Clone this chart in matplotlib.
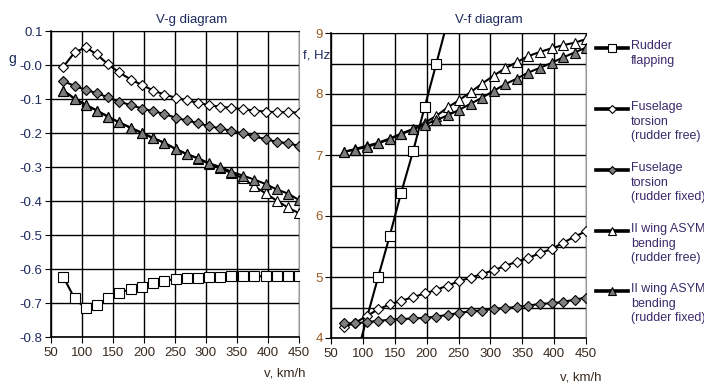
import matplotlib
matplotlib.use("Agg")
import matplotlib.pyplot as plt
from matplotlib.lines import Line2D
import numpy as np

plt.rcParams['font.family'] = ['Liberation Sans', 'DejaVu Sans']

# speeds, km/h
v = [70, 88, 106, 124, 142, 160, 179, 197, 215, 233, 251, 269, 287, 305, 323, 341, 359, 378, 396, 414, 432, 450]

# V-g diagram (damping g)
g_rudder = [-0.624, -0.686, -0.716, -0.706, -0.686, -0.670, -0.659, -0.652, -0.642, -0.634, -0.630,
            -0.627, -0.625, -0.624, -0.624, -0.622, -0.622, -0.622, -0.621, -0.621, -0.621, -0.621]
g_fus_free = [-0.005, 0.037, 0.052, 0.031, 0.002, -0.022, -0.043, -0.059, -0.075, -0.087, -0.096,
              -0.104, -0.111, -0.118, -0.123, -0.126, -0.130, -0.134, -0.137, -0.139, -0.139, -0.140]
g_fus_fixed = [-0.047, -0.062, -0.073, -0.083, -0.095, -0.108, -0.118, -0.128, -0.136, -0.144, -0.155,
               -0.163, -0.171, -0.180, -0.186, -0.194, -0.201, -0.210, -0.218, -0.226, -0.230, -0.238]
g_wing_free = [-0.075, -0.099, -0.117, -0.134, -0.152, -0.169, -0.185, -0.200, -0.215, -0.229, -0.247,
               -0.262, -0.275, -0.291, -0.304, -0.318, -0.333, -0.357, -0.377, -0.399, -0.419, -0.436]
g_wing_fixed = [-0.075, -0.099, -0.117, -0.134, -0.152, -0.169, -0.185, -0.200, -0.215, -0.229, -0.247,
                -0.262, -0.274, -0.289, -0.300, -0.314, -0.325, -0.337, -0.350, -0.366, -0.378, -0.397]

# V-f diagram (frequency, Hz)
v_rudder_f = [88, 106, 124, 142, 160, 179, 197, 215, 233]
f_rudder = [3.62, 4.32, 5.00, 5.67, 6.38, 7.07, 7.79, 8.49, 9.20]
f_fus_free = [4.18, 4.25, 4.36, 4.47, 4.55, 4.61, 4.67, 4.73, 4.79, 4.86, 4.93,
              4.99, 5.05, 5.11, 5.18, 5.25, 5.31, 5.39, 5.46, 5.56, 5.66, 5.75]
f_fus_fixed = [4.24, 4.24, 4.26, 4.28, 4.30, 4.31, 4.32, 4.33, 4.35, 4.38, 4.41,
               4.44, 4.45, 4.48, 4.49, 4.51, 4.53, 4.56, 4.57, 4.59, 4.63, 4.66]
f_wing_free = [7.05, 7.10, 7.15, 7.20, 7.27, 7.35, 7.43, 7.53, 7.64, 7.78, 7.90,
               8.03, 8.17, 8.30, 8.42, 8.52, 8.62, 8.69, 8.75, 8.80, 8.84, 8.90]
f_wing_fixed = [7.05, 7.09, 7.13, 7.19, 7.26, 7.34, 7.42, 7.50, 7.57, 7.65, 7.74,
                7.84, 7.94, 8.05, 8.16, 8.25, 8.35, 8.43, 8.51, 8.60, 8.68, 8.76]

labels = ['Rudder\nflapping', 'Fuselage\ntorsion\n(rudder free)', 'Fuselage\ntorsion\n(rudder fixed)',
          'II wing ASYM\nbending\n(rudder free)', 'II wing ASYM\nbending\n(rudder fixed)']

W, H = 704, 384
fig = plt.figure(figsize=(W / 100, H / 100), dpi=100)

def px_axes(l, t, r, b):
    return fig.add_axes([l / W, 1 - b / H, (r - l) / W, (b - t) / H])

styles = [
    dict(marker='s', mfc='white', ms=6.5),
    dict(marker='D', mfc='white', ms=5),
    dict(marker='D', mfc='#7f7f7f', ms=5),
    dict(marker='^', mfc='white', ms=6.5),
    dict(marker='^', mfc='#7a7a7a', ms=6.5),
]
common = dict(color='black', lw=1.5, mec='black', mew=0.8)

tick_col_x = '#3a2a20'

def style_axes(ax, ycol):
    ax.set_xlim(50, 450)
    ax.set_xticks(range(50, 451, 50))
    ax.grid(True, which='both', color='black', lw=1.0)
    ax.set_axisbelow(True)
    ax.spines['right'].set_color('#999999')
    ax.spines['top'].set_color('black')
    for s in ['left', 'bottom']:
        ax.spines[s].set_linewidth(1.2)
    ax.tick_params(axis='x', direction='out', length=4, labelsize=9.5, labelcolor=tick_col_x, pad=3)
    ax.tick_params(axis='y', direction='out', length=4, labelsize=9.5, labelcolor=ycol, pad=2)
    ax.tick_params(which='minor', length=0)

# V-g
ax1 = px_axes(51, 31, 299, 337)
ax1.plot(v, g_rudder, **styles[0], **common, zorder=3)
ax1.plot(v, g_fus_free, **styles[1], **common, zorder=4)
ax1.plot(v, g_fus_fixed, **styles[2], **common, zorder=5)
ax1.plot(v, g_wing_free, **styles[3], **common, zorder=6)
ax1.plot(v, g_wing_fixed, **styles[4], **common, zorder=7)
ax1.set_ylim(-0.8, 0.1)
yt = np.round(np.arange(-0.8, 0.11, 0.1), 1)
ax1.set_yticks(yt)
ax1.set_yticklabels(['%.1f' % t for t in yt])
style_axes(ax1, '#1c2a5c')

# V-f  (rudder markers only where they fall inside the plot area, as in the source)
ax2 = px_axes(331, 33, 586, 338)
ax2.plot(v_rudder_f, f_rudder, **styles[0], **common, zorder=3, markevery=[2, 3, 4, 5, 6, 7])
ax2.plot(v, f_fus_free, **styles[1], **common, zorder=4)
ax2.plot(v, f_fus_fixed, **styles[2], **common, zorder=5)
ax2.plot(v, f_wing_free, **styles[3], **common, zorder=6)
ax2.plot(v, f_wing_fixed, **styles[4], **common, zorder=7)
ax2.set_ylim(4, 9)
ax2.set_yticks([4, 5, 6, 7, 8, 9])
ax2.set_yticks([4.5, 5.5, 6.5, 7.5, 8.5], minor=True)
style_axes(ax2, '#9a5a20')

# titles and axis labels
tcol = '#1c2a5c'
fig.text(192 / W, 1 - 20 / H, 'V-g diagram', ha='center', va='center', fontsize=9.5, color=tcol)
fig.text(489 / W, 1 - 20 / H, 'V-f diagram', ha='center', va='center', fontsize=9.5, color=tcol)
fig.text(12 / W, 1 - 59 / H, 'g', ha='center', va='center', fontsize=10, color=tcol)
fig.text(330 / W, 1 - 55 / H, 'f, Hz', ha='right', va='center', fontsize=9.5, color=tcol)
fig.text(285 / W, 1 - 373 / H, 'v, km/h', ha='center', va='center', fontsize=9.5, color=tick_col_x)
fig.text(581 / W, 1 - 378 / H, 'v, km/h', ha='center', va='center', fontsize=9.5, color=tick_col_x)

# legend built by hand
leg_y = [48, 109, 170, 231, 291]
leg_ms = [5.5, 4.5, 4.5, 5.5, 5.5]
for y, lab, st, ms in zip(leg_y, labels, styles, leg_ms):
    yy = 1 - y / H
    fig.add_artist(Line2D([596 / W, 628 / W], [yy, yy], color='black', lw=2.6,
                          transform=fig.transFigure))
    fig.add_artist(Line2D([612 / W], [yy], marker=st['marker'], mfc=st['mfc'], mec='black',
                          mew=0.8, ms=ms, transform=fig.transFigure))
    fig.text(631 / W, yy + 8 / H, lab, ha='left', va='top', fontsize=9, color='#3a2a6a',
             linespacing=1.3)

fig.savefig('out.png', dpi=100)
